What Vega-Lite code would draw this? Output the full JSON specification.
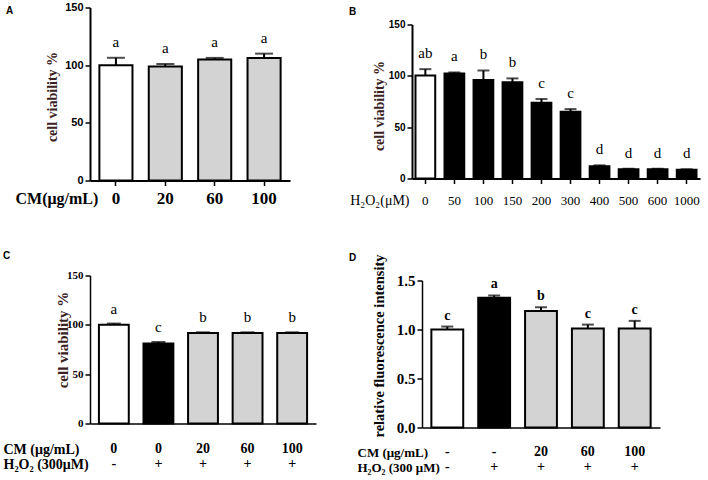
{
  "$schema": "https://vega.github.io/schema/vega-lite/v6.json",
  "padding": {"left": 3, "top": 1.5, "right": 0, "bottom": 0},
  "datasets": {
    "A": [
      {"k": "0", "mean": 100, "upper": 106.4, "lab": "a", "g": "control"},
      {"k": "20", "mean": 98.8, "upper": 101, "lab": "a", "g": "CM"},
      {"k": "60", "mean": 105, "upper": 106.3, "lab": "a", "g": "CM"},
      {"k": "100", "mean": 106.2, "upper": 110, "lab": "a", "g": "CM"}
    ],
    "B": [
      {"k": "0", "mean": 100.3, "upper": 106.5, "lab": "ab", "g": "control"},
      {"k": "50", "mean": 102.3, "upper": 103.3, "lab": "a", "g": "H2O2"},
      {"k": "100", "mean": 96, "upper": 105.2, "lab": "b", "g": "H2O2"},
      {"k": "150", "mean": 93.8, "upper": 97.5, "lab": "b", "g": "H2O2"},
      {"k": "200", "mean": 73.9, "upper": 77.4, "lab": "c", "g": "H2O2"},
      {"k": "300", "mean": 65, "upper": 67.6, "lab": "c", "g": "H2O2"},
      {"k": "400", "mean": 12, "upper": 12.8, "lab": "d", "g": "H2O2"},
      {"k": "500", "mean": 9, "upper": 9.5, "lab": "d", "g": "H2O2"},
      {"k": "600", "mean": 9, "upper": 9.5, "lab": "d", "g": "H2O2"},
      {"k": "1000", "mean": 8.5, "upper": 9, "lab": "d", "g": "H2O2"}
    ],
    "C": [
      {"k": "0|-", "mean": 100, "upper": 101.3, "lab": "a", "g": "control"},
      {"k": "0|+", "mean": 81, "upper": 82.6, "lab": "c", "g": "H2O2"},
      {"k": "20|+", "mean": 91.7, "upper": 92.4, "lab": "b", "g": "CM"},
      {"k": "60|+", "mean": 91.7, "upper": 92.4, "lab": "b", "g": "CM"},
      {"k": "100|+", "mean": 91.7, "upper": 92.4, "lab": "b", "g": "CM"}
    ],
    "D": [
      {"k": "-|-", "mean": 1.0, "upper": 1.03, "lab": "c", "g": "control"},
      {"k": "-|+", "mean": 1.323, "upper": 1.347, "lab": "a", "g": "H2O2"},
      {"k": "20|+", "mean": 1.19, "upper": 1.227, "lab": "b", "g": "CM"},
      {"k": "60|+", "mean": 1.009, "upper": 1.05, "lab": "c", "g": "CM"},
      {"k": "100|+", "mean": 1.009, "upper": 1.088, "lab": "c", "g": "CM"}
    ]
  },
  "concat": [
    {
      "width": 216, "height": 173,
      "title": {"text": "A", "dx": -84, "offset": -14.8},
      "data": {"name": "A"},
      "encoding": {
        "x": {"field": "k", "type": "nominal", "sort": null,
          "scale": {"paddingInner": 0.33, "paddingOuter": 0.19, "range": [0, 200]},
          "axis": {"title": "CM(μg/mL)", "titleFont": "Liberation Serif", "titleFontSize": 16, "titleFontWeight": "bold",
            "titleX": -75, "titleY": 18, "titleAlign": "left", "titleBaseline": "middle", "titleAngle": 0,
            "labelFont": "Liberation Serif", "labelFontSize": 17, "labelFontWeight": "bold", "labelAngle": 0,
            "labelBaseline": "middle", "labelPadding": 13, "tickSize": 5, "domainWidth": 2, "tickWidth": 1.5}
        }
      },
      "layer": [
        {"mark": {"type": "bar", "stroke": "black", "strokeWidth": 2},
         "encoding": {
           "y": {"field": "mean", "type": "quantitative", "title": "cell viability %",
             "scale": {"domain": [0, 150], "nice": false},
             "axis": {"values": [0, 50, 100, 150], "titleFont": "Liberation Serif", "titleFontSize": 14, "titleFontWeight": "bold",
               "titleColor": "#3a2222", "titleX": -38, "titleY": 89, "titleAlign": "center", "titleBaseline": "middle",
               "labelFont": "Liberation Sans", "labelFontSize": 11, "labelFontWeight": "bold", "labelPadding": 2,
               "tickSize": 5, "domainWidth": 2, "tickWidth": 1.5}},
           "fill": {"field": "g", "type": "nominal", "scale": {"domain": ["control", "H2O2", "CM"], "range": ["white", "black", "#d3d3d3"]}, "legend": null}
         }},
        {"mark": {"type": "rule", "strokeWidth": 2, "color": "black"},
         "encoding": {"y": {"field": "mean", "type": "quantitative", "title": "cell viability %"}, "y2": {"field": "upper"}}},
        {"mark": {"type": "tick", "thickness": 2, "size": 18, "color": "black"},
         "encoding": {"y": {"field": "upper", "type": "quantitative", "title": "cell viability %"}}},
        {"mark": {"type": "text", "font": "Liberation Serif", "fontSize": 15, "dy": -11, "baseline": "alphabetic", "color": "black"},
         "encoding": {"y": {"field": "upper", "type": "quantitative", "title": "cell viability %"}, "text": {"field": "lab"}}}
      ]
    },
    {
      "width": 278, "height": 171,
      "title": {"text": "B", "dx": -73, "offset": -9.3},
      "data": {"name": "B"},
      "encoding": {
        "x": {"field": "k", "type": "nominal", "sort": null,
          "scale": {"paddingInner": 0.32, "paddingOuter": 0.12, "range": [-10, 278]},
          "axis": {"title": "H₂O₂(μM)", "titleFont": "Liberation Serif", "titleFontSize": 14, "titleFontWeight": "normal",
            "titleX": -13, "titleY": 22, "titleAlign": "right", "titleBaseline": "middle", "titleAngle": 0,
            "labelFont": "Liberation Serif", "labelFontSize": 13, "labelFontWeight": "normal", "labelAngle": 0,
            "labelBaseline": "middle", "labelPadding": 17, "tickSize": 5, "domainWidth": 2, "tickWidth": 1.5}
        }
      },
      "layer": [
        {"mark": {"type": "bar", "stroke": "black", "strokeWidth": 2},
         "encoding": {
           "y": {"field": "mean", "type": "quantitative", "title": "cell viability %",
             "scale": {"domain": [0, 150], "nice": false, "range": [171, 17]},
             "axis": {"values": [0, 50, 100, 150], "offset": 10, "titleFont": "Liberation Serif", "titleFontSize": 14, "titleFontWeight": "bold",
               "titleColor": "#3a2222", "titleX": -33, "titleY": 98, "titleAlign": "center", "titleBaseline": "middle",
               "labelFont": "Liberation Sans", "labelFontSize": 10, "labelFontWeight": "bold", "labelPadding": 2,
               "tickSize": 5, "domainWidth": 2, "tickWidth": 1.5}},
           "fill": {"field": "g", "type": "nominal", "scale": {"domain": ["control", "H2O2", "CM"], "range": ["white", "black", "#d3d3d3"]}, "legend": null}
         }},
        {"mark": {"type": "rule", "strokeWidth": 2, "color": "black"},
         "encoding": {"y": {"field": "mean", "type": "quantitative", "title": "cell viability %"}, "y2": {"field": "upper"}}},
        {"mark": {"type": "tick", "thickness": 2, "size": 12, "color": "black"},
         "encoding": {"y": {"field": "upper", "type": "quantitative", "title": "cell viability %"}}},
        {"mark": {"type": "text", "font": "Liberation Serif", "fontSize": 15, "dy": -11, "baseline": "alphabetic", "color": "black"},
         "encoding": {"y": {"field": "upper", "type": "quantitative", "title": "cell viability %"}, "text": {"field": "lab"}}}
      ]
    },
    {
      "width": 226, "height": 148,
      "title": {"text": "C", "dx": -87, "offset": 8.2},
      "data": {"name": "C"},
      "encoding": {
        "x": {"field": "k", "type": "nominal", "sort": null,
          "scale": {"paddingInner": 0.33, "paddingOuter": 0.2},
          "axis": {"title": ["CM  (μg/mL)", "H₂O₂ (300μM)"], "titleFont": "Liberation Serif", "titleFontSize": 14, "titleFontWeight": "bold",
            "titleLineHeight": 14.5, "titleX": -87, "titleY": 26, "titleAlign": "left", "titleBaseline": "middle", "titleAngle": 0,
            "labelExpr": "split(datum.label, '|')",
            "labelFont": "Liberation Serif", "labelFontSize": 14, "labelFontWeight": "bold", "labelAngle": 0, "labelLineHeight": 14.5,
            "labelBaseline": "middle", "labelPadding": 25, "ticks": false, "tickSize": 0, "domainWidth": 1.5}
        }
      },
      "layer": [
        {"mark": {"type": "bar", "stroke": "black", "strokeWidth": 2},
         "encoding": {
           "y": {"field": "mean", "type": "quantitative", "title": "cell viability %",
             "scale": {"domain": [0, 150], "nice": false},
             "axis": {"values": [0, 50, 100, 150], "titleFont": "Liberation Serif", "titleFontSize": 15, "titleFontWeight": "bold",
               "titleColor": "#3a2222", "titleX": -28, "titleY": 64, "titleAlign": "center", "titleBaseline": "middle",
               "labelFont": "Liberation Serif", "labelFontSize": 11, "labelFontWeight": "bold", "labelPadding": 2,
               "tickSize": 5, "domainWidth": 1.5, "tickWidth": 1.5}},
           "fill": {"field": "g", "type": "nominal", "scale": {"domain": ["control", "H2O2", "CM"], "range": ["white", "black", "#d3d3d3"]}, "legend": null}
         }},
        {"mark": {"type": "rule", "strokeWidth": 2, "color": "black"},
         "encoding": {"y": {"field": "mean", "type": "quantitative", "title": "cell viability %"}, "y2": {"field": "upper"}}},
        {"mark": {"type": "tick", "thickness": 2, "size": 14, "color": "black"},
         "encoding": {"y": {"field": "upper", "type": "quantitative", "title": "cell viability %"}}},
        {"mark": {"type": "text", "font": "Liberation Serif", "fontSize": 15, "dy": -10, "baseline": "alphabetic", "color": "black"},
         "encoding": {"y": {"field": "upper", "type": "quantitative", "title": "cell viability %"}, "text": {"field": "lab"}}}
      ]
    },
    {
      "width": 238, "height": 152,
      "title": {"text": "D", "dx": -73, "offset": -9.3},
      "data": {"name": "D"},
      "encoding": {
        "x": {"field": "k", "type": "nominal", "sort": null,
          "scale": {"paddingInner": 0.32, "paddingOuter": 0.2},
          "axis": {"title": ["CM (μg/mL)", "H₂O₂ (300 μM)"], "titleFont": "Liberation Serif", "titleFontSize": 13, "titleFontWeight": "bold",
            "titleLineHeight": 14.5, "titleX": -65, "titleY": 25, "titleAlign": "left", "titleBaseline": "middle", "titleAngle": 0,
            "labelExpr": "split(datum.label, '|')",
            "labelFont": "Liberation Serif", "labelFontSize": 14, "labelFontWeight": "bold", "labelAngle": 0, "labelLineHeight": 14.5,
            "labelBaseline": "middle", "labelPadding": 24, "ticks": false, "tickSize": 0, "domainWidth": 1.5}
        }
      },
      "layer": [
        {"mark": {"type": "bar", "stroke": "black", "strokeWidth": 2},
         "encoding": {
           "y": {"field": "mean", "type": "quantitative", "title": "relative fluorescence intensity",
             "scale": {"domain": [0, 1.5], "nice": false, "range": [152, 5]},
             "axis": {"values": [0, 0.5, 1, 1.5], "format": ".1f", "titleFont": "Liberation Serif", "titleFontSize": 14.5, "titleFontWeight": "bold",
               "titleColor": "black", "titleX": -43, "titleY": 70, "titleAlign": "center", "titleBaseline": "middle",
               "labelFont": "Liberation Serif", "labelFontSize": 15, "labelFontWeight": "bold", "labelPadding": 2,
               "tickSize": 5, "domainWidth": 1.5, "tickWidth": 1.5}},
           "fill": {"field": "g", "type": "nominal", "scale": {"domain": ["control", "H2O2", "CM"], "range": ["white", "black", "#d3d3d3"]}, "legend": null}
         }},
        {"mark": {"type": "rule", "strokeWidth": 2, "color": "black"},
         "encoding": {"y": {"field": "mean", "type": "quantitative", "title": "relative fluorescence intensity"}, "y2": {"field": "upper"}}},
        {"mark": {"type": "tick", "thickness": 2, "size": 12, "color": "black"},
         "encoding": {"y": {"field": "upper", "type": "quantitative", "title": "relative fluorescence intensity"}}},
        {"mark": {"type": "text", "font": "Liberation Serif", "fontSize": 14, "fontWeight": "bold", "dy": -7, "baseline": "alphabetic", "color": "black"},
         "encoding": {"y": {"field": "upper", "type": "quantitative", "title": "relative fluorescence intensity"}, "text": {"field": "lab"}}}
      ]
    }
  ],
  "columns": 2,
  "align": "none",
  "spacing": {"row": 95, "column": 106},
  "bounds": "flush",
  "resolve": {"scale": {"fill": "independent"}},
  "config": {
    "view": {"stroke": null},
    "background": "white",
    "axis": {"grid": false, "domainColor": "black", "tickColor": "black", "labelColor": "black", "titleColor": "black"},
    "title": {"font": "Liberation Sans", "fontSize": 10, "fontWeight": "bold", "anchor": "start", "frame": "group", "baseline": "top", "color": "black"}
  }
}
